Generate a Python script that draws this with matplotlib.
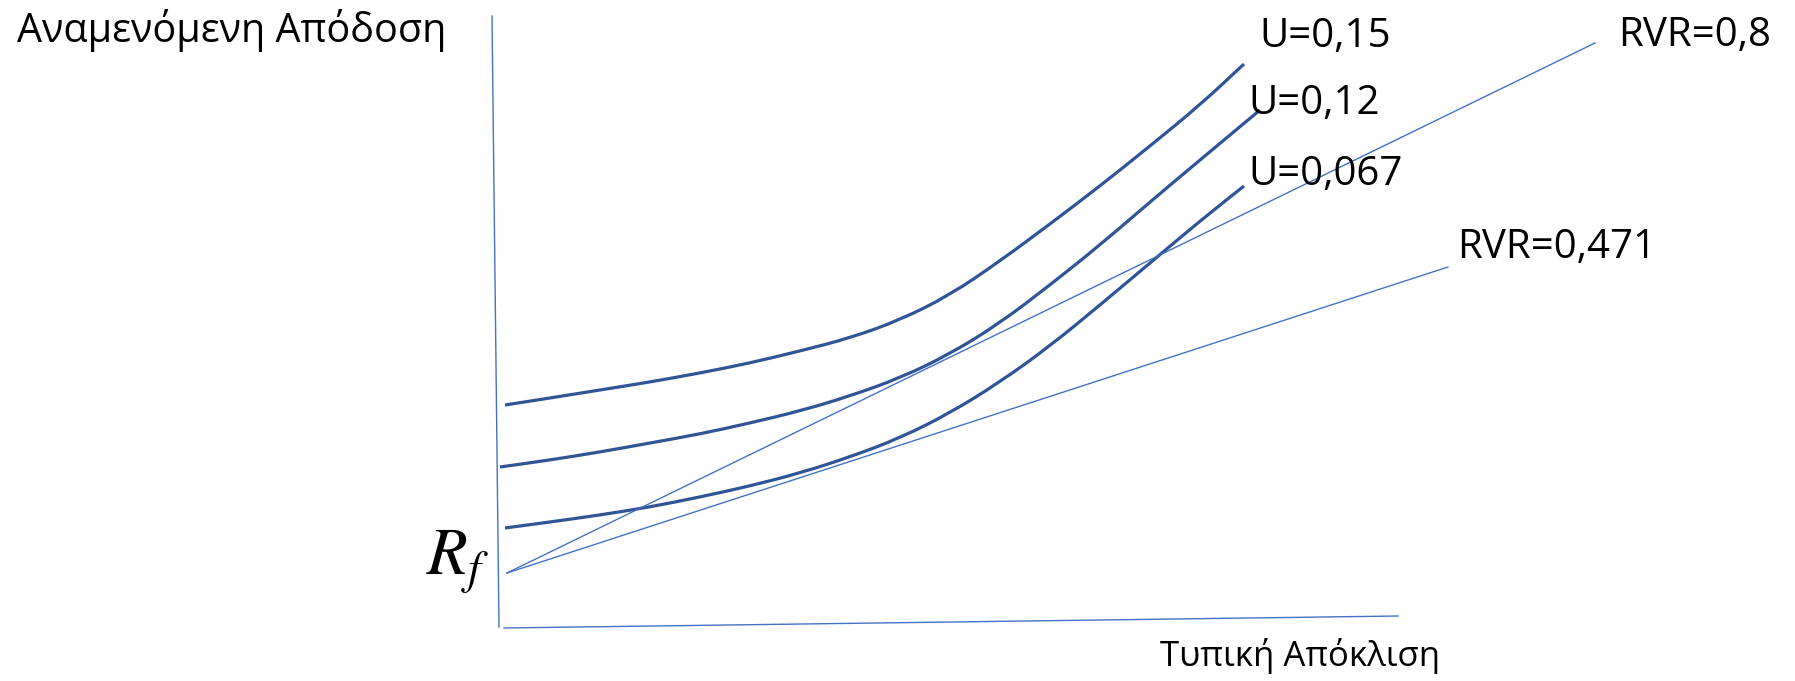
import matplotlib
matplotlib.use("Agg")
import matplotlib.pyplot as plt
from matplotlib.path import Path
from matplotlib.patches import PathPatch

plt.rcParams['font.family'] = ['Open Sans', 'DejaVu Sans']
plt.rcParams['mathtext.fontset'] = 'stix'

# everything below is in image units (x to the right, y downwards)
# hand-drawn axes
y_axis_x = [492, 499]
y_axis_y = [16, 627]
x_axis_x = [504, 1398]
x_axis_y = [628, 616]

# capital allocation lines from Rf
rf_point = (507, 573)
rvr_labels = ['RVR=0,8', 'RVR=0,471']
rvr_ends_x = [1595, 1448]
rvr_ends_y = [43, 267]

# indifference curves
u_labels = ['U=0,15', 'U=0,12', 'U=0,067']
u015_x = [505, 550, 600, 650, 700, 750, 800, 850, 900, 950, 1000, 1050, 1100, 1150, 1200, 1244]
u015_y = [405, 398, 390, 382, 373, 363, 351, 338, 320, 295, 261, 224, 186, 146, 105, 64]
u012_x = [500, 550, 600, 650, 700, 750, 800, 850, 900, 950, 1000, 1050, 1100, 1150, 1200, 1260]
u012_y = [467, 460, 452, 443, 434, 423, 411, 396, 378, 354, 323, 285, 245, 202, 160, 110]
u0067_x = [505, 550, 600, 650, 700, 750, 800, 850, 900, 950, 1000, 1050, 1100, 1150, 1200, 1244]
u0067_y = [528, 522, 515, 507, 497, 486, 473, 457, 438, 413, 382, 346, 305, 263, 221, 186]

thin_blue = '#4472C4'
dark_blue = '#2F5597'


def smooth_path(xs, ys):
    # quadratic b-spline style path: read points act as control points
    pts = list(zip(xs, ys))
    verts = [pts[0]]
    codes = [Path.MOVETO]
    mid = ((pts[0][0] + pts[1][0]) / 2, (pts[0][1] + pts[1][1]) / 2)
    verts.append(mid)
    codes.append(Path.LINETO)
    for i in range(1, len(pts) - 1):
        nxt = ((pts[i][0] + pts[i + 1][0]) / 2, (pts[i][1] + pts[i + 1][1]) / 2)
        verts += [pts[i], nxt]
        codes += [Path.CURVE3, Path.CURVE3]
    verts.append(pts[-1])
    codes.append(Path.LINETO)
    return Path(verts, codes)


fig = plt.figure(figsize=(17.95, 6.81), dpi=100)
ax = fig.add_axes([0, 0, 1, 1])
ax.set_xlim(0, 1795)
ax.set_ylim(681, 0)
ax.axis('off')

ax.plot(y_axis_x, y_axis_y, color=thin_blue, lw=1.0)
ax.plot(x_axis_x, x_axis_y, color=thin_blue, lw=1.0)

for ex, ey in zip(rvr_ends_x, rvr_ends_y):
    ax.plot([rf_point[0], ex], [rf_point[1], ey], color=thin_blue, lw=1.0)

for xs, ys in [(u015_x, u015_y), (u012_x, u012_y), (u0067_x, u0067_y)]:
    ax.add_patch(PathPatch(smooth_path(xs, ys), fill=False, edgecolor=dark_blue,
                           lw=2.3, capstyle='butt', joinstyle='round'))

fs = 29
ax.text(17, 42, 'Αναμενόμενη Απόδοση', fontsize=28.5, va='baseline', ha='left')
ax.text(1160, 666, 'Τυπική Απόκλιση', fontsize=25, va='baseline', ha='left')

u_pos = [(1259, 47), (1248, 114), (1248, 185)]
for lab, (tx, ty) in zip(u_labels, u_pos):
    ax.text(tx, ty, lab, fontsize=fs, va='baseline', ha='left')

rvr_pos = [(1618, 46), (1457, 258)]
for lab, (tx, ty) in zip(rvr_labels, rvr_pos):
    ax.text(tx, ty, lab, fontsize=fs, va='baseline', ha='left')

ax.text(426, 575, r'$R_f$', fontsize=48, va='baseline', ha='left')

fig.savefig('out.png', dpi=100)
